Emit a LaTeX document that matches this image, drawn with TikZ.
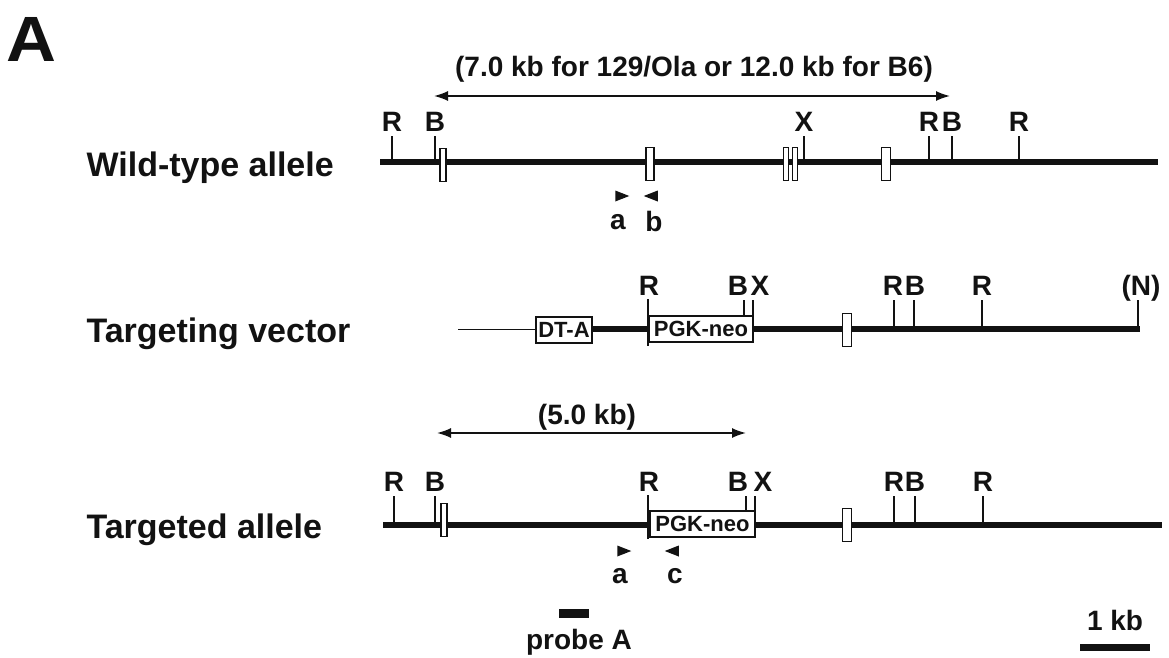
\documentclass[tikz,border=0pt]{standalone}
\usepackage{fontspec}
\setmainfont{Liberation Sans}
\usetikzlibrary{arrows.meta,shapes.geometric}
\definecolor{ink}{gray}{0.07}

\begin{document}
\begin{tikzpicture}[x=1pt,y=-1pt,line cap=butt,every node/.style={text=ink,font=\fontsize{28}{28}\selectfont\bfseries},
rowlabel/.style={anchor=west,font=\fontsize{34}{34}\selectfont\bfseries},
site/.style={anchor=south,inner sep=0pt,yshift=4pt},
backbone/.style={draw=ink,line width=6pt},
tick/.style={draw=ink,line width=1.3pt},
genespan/.style={draw=ink,line width=1.7pt,{Latex[length=14pt,width=10pt]}-{Latex[length=14pt,width=10pt]}},
exon/.style={draw=ink,fill=white,line width=1.2pt,inner sep=0pt,minimum width=#1,minimum height=33pt},
cassette/.style={draw=ink,fill=white,line width=1.3pt,inner sep=0pt,minimum height=26pt,font=\fontsize{22}{22}\selectfont\bfseries},
primer/.style={isosceles triangle,isosceles triangle stretches,fill=ink,inner sep=0pt,minimum width=11pt,minimum height=14pt}]
\useasboundingbox[fill=white] (0,0) rectangle (1169,658);
\node[font=\fontsize{64}{64}\selectfont\bfseries,xscale=1.08,transform shape] (panel) at (31,39) {A};
% wild-type
\node[rowlabel] (wtname) at (83,168) {Wild-type allele};
\coordinate (wt0) at (380,162);
\coordinate (wt1) at (1158,162);
\draw[backbone] (wt0) -- (wt1);
\node[site] (wtR1) at (392,136) {R};
\node[site] (wtB1) at (435,136) {B};
\node[site] (wtX) at (804,136) {X};
\node[site] (wtR2) at (929,136) {R};
\node[site] (wtB2) at (952,136) {B};
\node[site] (wtR3) at (1019,136) {R};
\foreach \s in {wtR1,wtB1,wtX,wtR2,wtB2,wtR3} \draw[tick] (\s.south) ++(0,4) -- (\s.south |- wt0);
\node[exon=6pt] (wtex1) at (443,165) {};
\node[exon=8pt] (wtex2) at (650,164) {};
\node[exon=5pt] (wtex3) at (786,164) {};
\node[exon=5pt] (wtex4) at (795,164) {};
\node[exon=9pt] (wtex5) at (886,164) {};
\node[primer] (pa1) at (619,196) {};
\node[primer,shape border rotate=180] (pb) at (654,196) {};
\node (la1) at (618,222) {a};
\node (lb) at (654,221) {b};
\coordinate (wtl) at (434,96);
\coordinate (wtr) at (950,96);
\draw[genespan] (wtl) -- (wtr);
\node (wtspan) at (694,69) {(7.0 kb for 129/Ola or 12.0 kb for B6)};
% vector
\node[rowlabel] (tvname) at (83,334) {Targeting vector};
\coordinate (tv0) at (458,329);
\coordinate (tv1) at (1140,329);
\node[cassette,minimum width=56pt] (dta) at (564,330) {DT-A};
\node[cassette,minimum width=104pt] (tvneo) at (701,329) {PGK-neo};
\draw[draw=ink,line width=1pt] (tv0) -- (tv0 -| dta.west);
\draw[backbone] (tv0 -| dta.east) -- (tv0 -| tvneo.west);
\draw[backbone] (tv0 -| tvneo.east) -- (tv1);
\draw[draw=ink,line width=2pt] (tvneo.north west) ++(0,-16) -- ++(0,47);
\node[site] (tvR1) at (649,300) {R};
\node[site] (tvB1) at (738,300) {B};
\node[site] (tvX) at (760,300) {X};
\node[site] (tvR2) at (893,300) {R};
\node[site] (tvB2) at (915,300) {B};
\node[site] (tvR3) at (982,300) {R};
\node[site] (tvN) at (1141,306) {(N)};
\coordinate (tvB1t) at (744,300);
\coordinate (tvXt) at (753,300);
\coordinate (tvR2t) at (894,300);
\coordinate (tvB2t) at (914,300);
\coordinate (tvNt) at (1138,300);
\draw[tick] (tvB1t) -- (tvB1t |- tvneo.north);
\draw[tick] (tvXt) -- (tvXt |- tvneo.north);
\draw[tick] (tvR2t) -- (tvR2t |- tv0);
\draw[tick] (tvB2t) -- (tvB2t |- tv0);
\draw[tick] (tvNt) -- (tvNt |- tv0);
\foreach \s in {tvR3} \draw[tick] (\s.south) ++(0,4) -- (\s.south |- tv0);
\node[exon=9pt] (tvex) at (847,330) {};
% targeted
\node[rowlabel] (taname) at (83,530) {Targeted allele};
\coordinate (ta0) at (383,525);
\coordinate (ta1) at (1162,525);
\node[cassette,minimum width=105pt] (taneo) at (702.5,524) {PGK-neo};
\draw[backbone] (ta0) -- (ta0 -| taneo.west);
\draw[backbone] (ta0 -| taneo.east) -- (ta1);
\draw[draw=ink,line width=2pt] (taneo.north west) ++(-1,-15) -- ++(0,44);
\node[site] (taR1) at (394,496) {R};
\node[site] (taB1) at (435,496) {B};
\node[site] (taR2) at (649,496) {R};
\node[site] (taB2) at (738,496) {B};
\node[site] (taX) at (763,496) {X};
\node[site] (taR3) at (894,496) {R};
\node[site] (taB3) at (915,496) {B};
\node[site] (taR4) at (983,496) {R};
\coordinate (taB2t) at (746,496);
\coordinate (taXt) at (755,496);
\draw[tick] (taB2t) -- (taB2t |- taneo.north);
\draw[tick] (taXt) -- (taXt |- taneo.north);
\foreach \s in {taR1,taB1,taR3,taB3,taR4} \draw[tick] (\s.south) ++(0,4) -- (\s.south |- ta0);
\node[exon=6pt] (taex1) at (444,520) {};
\node[exon=9pt] (taex2) at (847,525) {};
\node[primer] (pa2) at (621,551) {};
\node[primer,shape border rotate=180] (pc) at (675,551) {};
\node (la2) at (620,576) {a};
\node (lc) at (675,576) {c};
\coordinate (tal) at (437,433);
\coordinate (tar) at (746,433);
\draw[genespan] (tal) -- (tar);
\node (taspan) at (587,417) {(5.0 kb)};
% probe, scale
\node[fill=ink,inner sep=0pt,minimum width=30pt,minimum height=9pt] (probe) at (574,613) {};
\node (lprobe) at (579,642) {probe A};
\coordinate (sc0) at (1080,647);
\coordinate (sc1) at (1150,647);
\draw[draw=ink,line width=7pt] (sc0) -- (sc1);
\node (lscale) at (1115,620) {1 kb};
\end{tikzpicture}
\end{document}
